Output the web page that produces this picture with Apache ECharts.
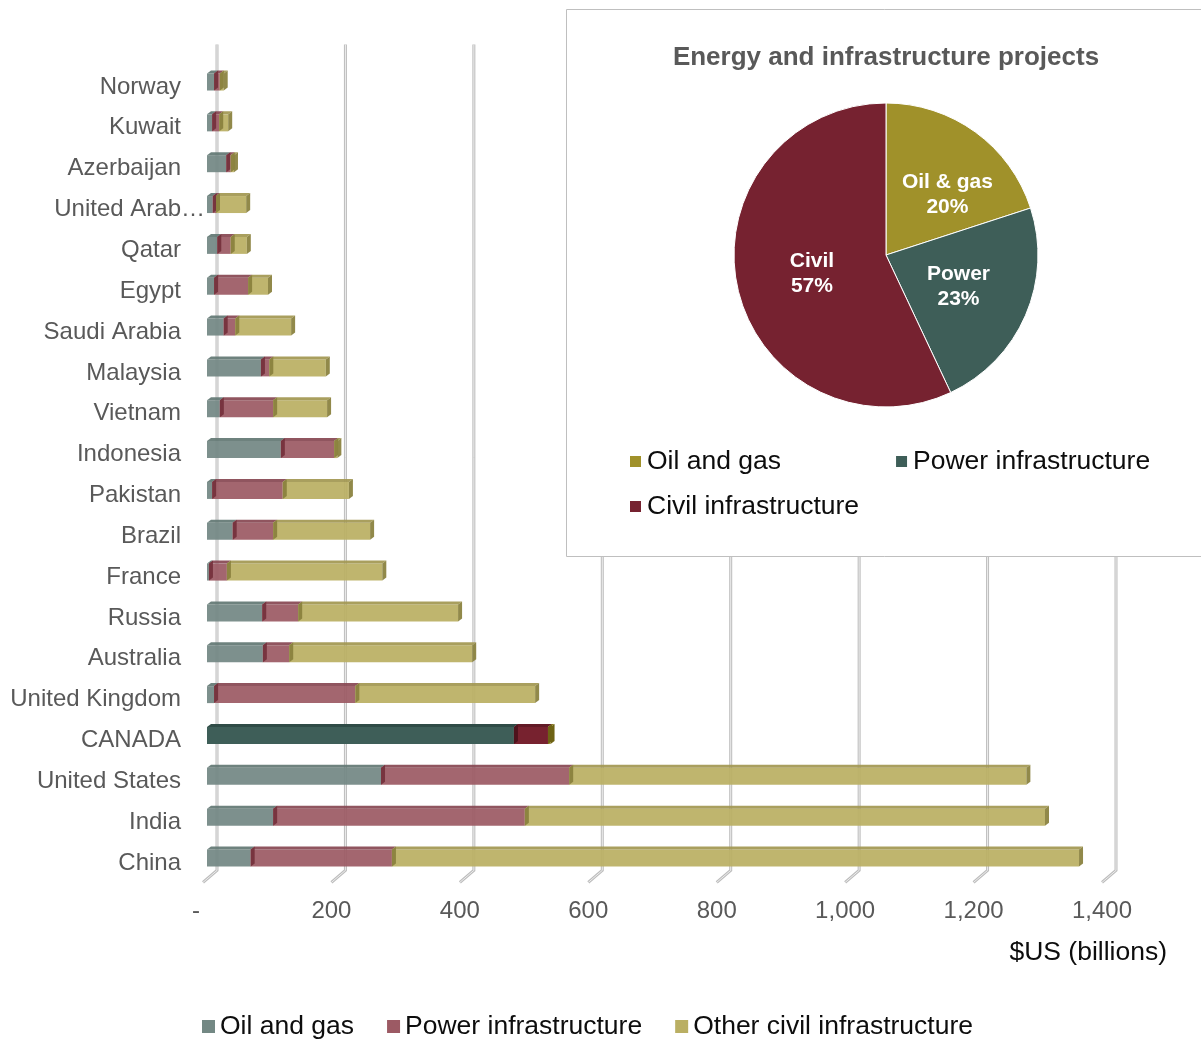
<!DOCTYPE html>
<html>
<head>
<meta charset="utf-8">
<script src="https://cdn.jsdelivr.net/npm/echarts/dist/echarts.min.js"></script>
<style>
  html, body { margin: 0; padding: 0; background: #fff; }
  #chart { width: 1201px; height: 1042px; }
</style>
</head>
<body>
<div id="chart"></div>
<script>
// Project pipeline by country, $US billions (top row first)
const categories = ['Norway', 'Kuwait', 'Azerbaijan', 'United Arab Emirates', 'Qatar', 'Egypt',
  'Saudi Arabia', 'Malaysia', 'Vietnam', 'Indonesia', 'Pakistan', 'Brazil', 'France', 'Russia',
  'Australia', 'United Kingdom', 'CANADA', 'United States', 'India', 'China'];
const oilGas     = [11, 8, 30, 9, 16, 11, 26, 84, 20, 115, 8, 40, 3, 86, 87, 11, 478, 271, 103, 68];
const powerInfra = [9, 11, 7, 5, 21, 53, 18, 13, 83, 83, 110, 63, 28, 56, 41, 220, 53, 293, 392, 220];
const otherCivil = [6, 14, 5, 47, 25, 31, 87, 88, 84, 5, 103, 151, 242, 249, 285, 280, 4, 712, 810, 1070];
const seriesNames = ['Oil and gas', 'Power infrastructure', 'Other civil infrastructure'];
const xTicks = [0, 200, 400, 600, 800, 1000, 1200, 1400];

// Share of energy and infrastructure projects
const pieNames  = ['Oil & gas', 'Power', 'Civil'];
const pieShares = [20, 23, 57];
const pieLegendNames = { 'Oil & gas': 'Oil and gas', 'Power': 'Power infrastructure', 'Civil': 'Civil infrastructure' };

const FONT = "'Liberation Sans', Arial, sans-serif";
const highlightRow = 'CANADA';

// front / top / side shades for each stack level
const shades = [
  { front: '#738884', top: '#637874', side: '#4C6163' },
  { front: '#9C5A64', top: '#884853', side: '#74303B' },
  { front: '#BAAF63', top: '#A39852', side: '#89803C' }
];
const highlightShades = [
  { front: '#3E5E58', top: '#2F4B46', side: '#243B37' },
  { front: '#77222F', top: '#621A26', side: '#4E121C' },
  { front: '#A3942B', top: '#8A7C20', side: '#6E6314' }
];
const pieColors = ['#A0912A', '#3E5E58', '#762230'];

const levels = [oilGas, powerInfra, otherCivil];
const DX = 4, DY = 3, BAR_H = 17;

function stackData(level) {
  return categories.map((c, i) => {
    let start = 0;
    for (let k = 0; k < level; k++) start += levels[k][i];
    return [start, start + levels[level][i], i];
  });
}

function boxRenderer(level) {
  return function (params, api) {
    const s = api.value(0), e = api.value(1), idx = api.value(2);
    const p0 = api.coord([s, idx]);
    const p1 = api.coord([e, idx]);
    const x0 = p0[0], x1 = p1[0];
    const top = p0[1] - BAR_H / 2, bot = p0[1] + BAR_H / 2;
    const hl = categories[idx] === highlightRow;
    const c = (hl ? highlightShades : shades)[level];
    const op = hl ? 1 : 0.93;
    const children = [
      { type: 'rect', shape: { x: x0, y: top, width: x1 - x0, height: BAR_H },
        style: { fill: c.front, opacity: op } },
      { type: 'polygon', shape: { points: [[x0, top], [x1, top], [x1 + DX, top - DY], [x0 + DX, top - DY]] },
        style: { fill: c.top, opacity: op } }
    ];
    if (level > 0) {
      children.push({ type: 'polygon',
        shape: { points: [[x0, bot], [x0, top], [x0 + DX, top - DY], [x0 + DX, bot - DY]] },
        style: { fill: c.side, opacity: op } });
    }
    if (level === levels.length - 1) {
      children.push({ type: 'polygon',
        shape: { points: [[x1, bot], [x1, top], [x1 + DX, top - DY], [x1 + DX, bot - DY]] },
        style: { fill: c.side, opacity: op } });
    }
    return { type: 'group', children: children };
  };
}

// back-wall gridlines with the floor returning to the front
function wallRenderer(params, api) {
  const p = api.coord([api.value(0), 0]);
  const cs = params.coordSys;
  const topY = cs.y - 17;
  const floorY = cs.y + cs.height - 8;
  const pts = [[p[0] + 10, topY], [p[0] + 10, floorY], [p[0] - 4, floorY + 12]];
  return {
    type: 'group',
    children: [
      { type: 'polyline', shape: { points: pts }, style: { stroke: '#bdbdbd', lineWidth: 3, fill: null } },
      { type: 'polyline', shape: { points: pts }, style: { stroke: '#ededed', lineWidth: 1, fill: null } }
    ]
  };
}

const barSeries = levels.map((arr, level) => ({
  name: seriesNames[level],
  type: 'custom',
  z: 2,
  clip: false,
  itemStyle: { color: shades[level].front },
  encode: { x: [0, 1], y: 2 },
  renderItem: boxRenderer(level),
  data: stackData(level)
}));

const chart = echarts.init(document.getElementById('chart'), null, { renderer: 'canvas' });

chart.setOption({
  animation: false,
  backgroundColor: '#ffffff',
  textStyle: { fontFamily: FONT },
  title: {
    text: 'Energy and infrastructure projects',
    left: 886, top: 45, textAlign: 'center', padding: 0, z: 30,
    textStyle: { fontFamily: FONT, fontSize: 26, fontWeight: 'bold', color: '#595959' }
  },
  grid: { left: 207, right: 95, top: 61.6, bottom: 163.6, containLabel: false },
  xAxis: {
    type: 'value', min: 0, max: 1400, interval: 200,
    axisLine: { show: false }, axisTick: { show: false }, splitLine: { show: false },
    axisLabel: {
      margin: 21, padding: [0, 8, 0, 0], color: '#595959', fontSize: 24, fontFamily: FONT,
      formatter: v => v === 0 ? '{zero|-}' : v.toLocaleString('en-US'),
      rich: { zero: { color: '#595959', fontSize: 24, fontFamily: FONT, padding: [0, 14, 0, 0] } }
    }
  },
  yAxis: {
    type: 'category', data: categories, inverse: true,
    axisLine: { show: false }, axisTick: { show: false }, splitLine: { show: false },
    axisLabel: {
      margin: 26, padding: [10, 0, 0, 0], color: '#595959', fontSize: 24, fontFamily: FONT,
      formatter: v => v === 'United Arab Emirates' ? '{cut|United Arab\u2026}' : v,
      rich: { cut: { color: '#595959', fontSize: 24, fontFamily: FONT, padding: [0, -24, 0, 0] } }
    }
  },
  legend: [
    {
      data: seriesNames, left: 202, top: 1013, padding: 0, itemGap: 33,
      itemWidth: 13, itemHeight: 13, icon: 'rect', z: 30,
      textStyle: { fontSize: 26.5, color: '#0d0d0d', fontFamily: FONT }
    },
    {
      data: ['Oil & gas', 'Power'], left: 628, top: 448, padding: 0, itemGap: 113,
      itemWidth: 13, itemHeight: 13, icon: 'rect', z: 30,
      formatter: n => pieLegendNames[n],
      textStyle: { fontSize: 26.5, color: '#0d0d0d', fontFamily: FONT }
    },
    {
      data: ['Civil'], left: 628, top: 493, padding: 0,
      itemWidth: 13, itemHeight: 13, icon: 'rect', z: 30,
      formatter: n => pieLegendNames[n],
      textStyle: { fontSize: 26.5, color: '#0d0d0d', fontFamily: FONT }
    }
  ],
  graphic: [
    { type: 'rect', z: 10, shape: { x: 566.5, y: 9.5, width: 700, height: 547 },
      style: { fill: '#ffffff', stroke: '#bfbfbf', lineWidth: 1 } },
    { type: 'text', z: 10, x: 1167, y: 953,
      style: { text: '$US (billions)', fill: '#0d0d0d', fontSize: 26.5, fontFamily: FONT,
               align: 'right', verticalAlign: 'middle' } }
  ],
  series: [
    {
      name: 'wall',
      type: 'custom', z: 1, clip: false, silent: true,
      encode: { x: 0 },
      renderItem: wallRenderer,
      data: xTicks.map(v => [v])
    },
    ...barSeries,
    {
      type: 'pie', z: 20,
      center: [886, 255], radius: 152, startAngle: 90, clockwise: true,
      itemStyle: { borderColor: '#ffffff', borderWidth: 1 },
      label: {
        position: 'inside', formatter: '{b}\n{d}%', color: '#ffffff',
        fontSize: 21, fontWeight: 'bold', lineHeight: 25, fontFamily: FONT
      },
      labelLine: { show: false },
      data: pieNames.map((n, i) => ({
        name: n, value: pieShares[i], itemStyle: { color: pieColors[i] },
        label: i === 0 ? { offset: [15, 4] } : (i === 2 ? { offset: [3, 1] } : undefined)
      }))
    }
  ]
});
</script>
</body>
</html>
